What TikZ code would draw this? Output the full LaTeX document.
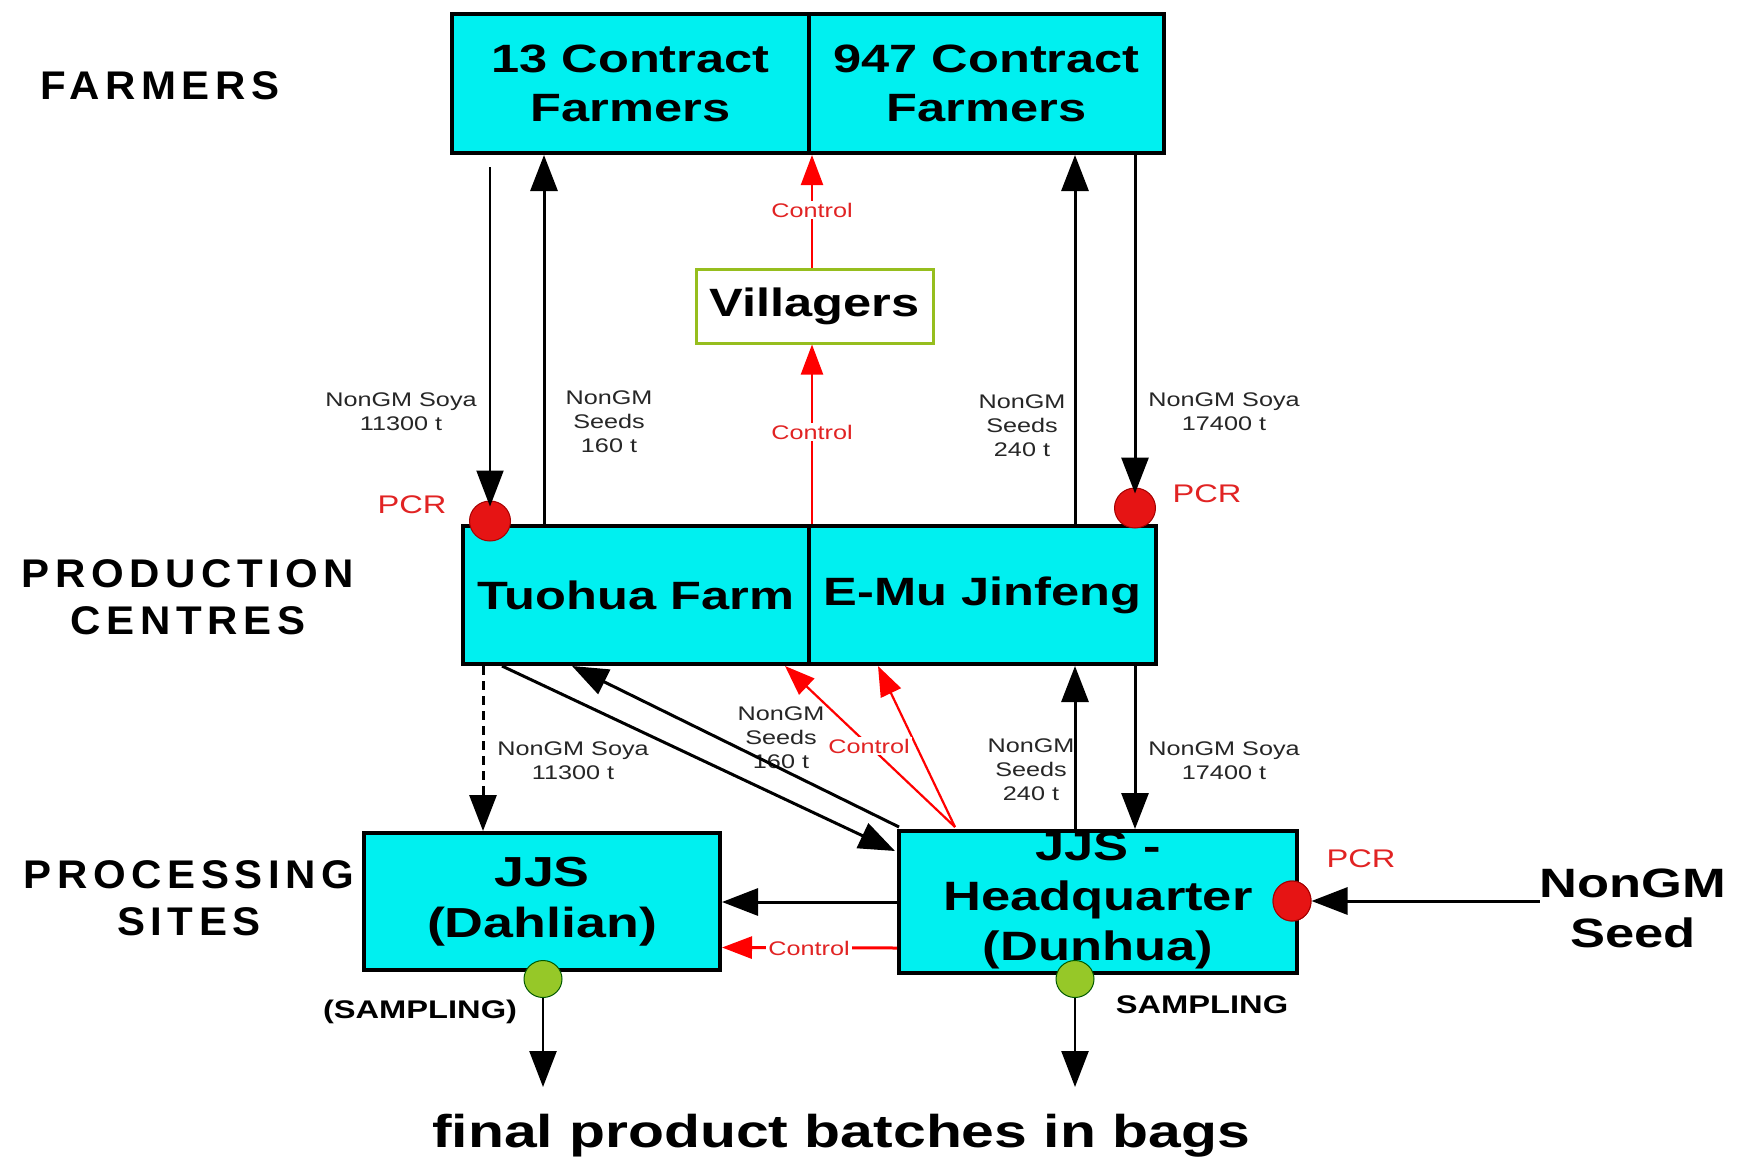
\documentclass[tikz,border=0pt]{standalone}
\usepackage{fontspec}
\setmainfont{Liberation Sans}[FakeStretch=1.28]
\newfontfamily\lvlfont{Liberation Sans}[FakeStretch=1.05,LetterSpace=14]
\usetikzlibrary{arrows.meta,shapes.geometric,calc}
\definecolor{boxcyan}{RGB}{0,240,240}
\definecolor{vgreen}{RGB}{150,190,30}
\definecolor{smpgreen}{RGB}{150,200,40}
\definecolor{pcrred}{RGB}{230,20,20}
\definecolor{txtred}{RGB}{225,35,35}
\newcommand\fsz[2]{\fontsize{#1}{#2}\selectfont}
\tikzset{
  box/.style={draw=black, line width=4pt, fill=boxcyan, inner sep=0pt, align=center, font=\bfseries\fsz{39.5}{49}},
  small/.style={font=\fsz{19.7}{24}, align=center, text=black!85, inner sep=0pt},
  ctrl/.style={font=\fsz{19.7}{24}, text=txtred, fill=white, inner sep=2pt},
  pcrtxt/.style={font=\fsz{25.5}{30}, text=txtred, inner sep=0pt},
  lvl/.style={font=\lvlfont\bfseries\fsz{40}{47}, align=center, inner sep=0pt},
  arr/.style={-{Triangle[length=36pt,width=27pt]}, line width=3pt},
  thinarr/.style={-{Triangle[length=36pt,width=27pt]}, line width=2pt},
  redarr/.style={-{Triangle[length=30pt,width=22pt]}, draw=red, line width=2.2pt},
  pcr/.style={ellipse, draw=red!65!black, fill=pcrred, line width=1pt, minimum width=41pt, minimum height=40pt, inner sep=0pt},
  smp/.style={ellipse, draw=green!35!black, fill=smpgreen, line width=1pt, minimum width=38pt, minimum height=37pt, inner sep=0pt}
}
\begin{document}
\begin{tikzpicture}[x=1pt,y=-1pt]
\useasboundingbox[fill=white] (0,0) rectangle (1742,1156);
% column helpers
\coordinate (c483) at (483,0);
\coordinate (c490) at (490,0);
\coordinate (c502) at (502,0);
\coordinate (c544) at (544,0);
\coordinate (c572) at (572,0);
\coordinate (c785) at (785,0);
\coordinate (c812) at (812,0);
\coordinate (c878) at (878,0);
\coordinate (c1075) at (1075,0);
\coordinate (c1135) at (1135,0);
\coordinate (fp) at (841,1087);

% level labels
\node[lvl] (lfarm) at (160,86) {FARMERS};
\node[lvl] (lprod) at (188,597) {PRODUCTION\\CENTRES};
\node[lvl] (lproc) at (189,898) {PROCESSING\\SITES};

% boxes
\node[box, minimum width=357pt, minimum height=139pt] (fa) at (630.5,83.5) {13 Contract\\Farmers};
\node[box, minimum width=355pt, minimum height=139pt] (fb) at (986.5,83.5) {947 Contract\\Farmers};
\node[draw=vgreen, line width=3pt, fill=white, minimum width=237pt, minimum height=74pt, inner sep=0pt, font=\bfseries\fsz{39.5}{49}] (vil) at (814.5,306) {Villagers};
\node[box, minimum width=346pt, minimum height=138pt] (pa) at (636,595) {Tuohua Farm};
\node[box, minimum width=347pt, minimum height=138pt] (pb) at (982.5,595) {E-Mu Jinfeng};
\node[box, minimum width=356pt, minimum height=137pt, font=\bfseries\fsz{42}{51}] (dl) at (542,901.5) {JJS\\(Dahlian)};
\node[box, minimum width=398pt, minimum height=142pt] (hq) at (1098,902) {};
\node[align=center, inner sep=0pt, font=\bfseries\fsz{41}{50}] (hqt) at (1098,900) {JJS -\\Headquarter\\(Dunhua)};

% small labels (drawn under lines)
\node[small] (s1) at (401,412) {NonGM Soya\\11300 t};
\node[small] (s2) at (609,422) {NonGM\\Seeds\\160 t};
\node[small] (s3) at (1022,426) {NonGM\\Seeds\\240 t};
\node[small] (s4) at (1224,412) {NonGM Soya\\17400 t};
\node[small] (s5) at (573,761) {NonGM Soya\\11300 t};
\node[small] (s6) at (781,738) {NonGM\\Seeds\\160 t};
\node[small] (s7) at (1031,770) {NonGM\\Seeds\\240 t};
\node[small] (s8) at (1224,761) {NonGM Soya\\17400 t};

% circles
\node[pcr] (pcr1) at (490,521) {};
\node[pcr] (pcr2) at (1135,508) {};
\node[pcr, minimum width=38pt, minimum height=40pt] (pcr3) at (1292,901) {};
\node[smp] (smp1) at (543,979) {};
\node[smp] (smp2) at (1075,979) {};

% texts
\node[pcrtxt] (p1) at (412,505) {PCR};
\node[pcrtxt] (p2) at (1207,494) {PCR};
\node[pcrtxt] (p3) at (1361,859) {PCR};
\node[font=\bfseries\fsz{41}{50}, align=center, inner sep=0pt] (seed) at (1633,908) {NonGM\\Seed};
\node[font=\bfseries\fsz{25.5}{30}, inner sep=0pt] (sm1) at (420,1012) {(SAMPLING)};
\node[font=\bfseries\fsz{25.5}{30}, inner sep=0pt] (sm2) at (1202,1005) {SAMPLING};
\node[font=\bfseries\fsz{46}{55}, inner sep=0pt] (fin) at (841,1136) {final product batches in bags};

% farmers <-> production
\draw[thinarr] ($(fa.south -| c490)+(0,12)$) -- ($(pcr1.north)+(0,6)$);
\draw[arr] (pa.north -| c544) -- (fa.south -| c544);
\draw[arr] (pb.north -| c1075) -- (fb.south -| c1075);
\draw[arr] (fb.south -| c1135) -- ($(pcr2.north)+(0,6)$);
\draw[redarr] (pa.north -| c812) -- (vil.south -| c812);
\draw[redarr] (vil.north -| c812) -- (fa.south -| c812);
\node[ctrl] (k1) at (812,210) {Control};
\node[ctrl] (k2) at (812,432) {Control};

% production <-> processing
\draw[arr, dashed, dash pattern=on 9pt off 6pt] (pa.south -| c483) -- (dl.north -| c483);
\draw[arr] (pa.south -| c502) -- ($(hq.north west)+(-2,22)$);
\draw[arr] ($(hq.north west)+(2,-2)$) -- (pa.south -| c572);
\draw[redarr] ($(hq.north west)+(58,-2)$) -- (pa.south -| c785);
\draw[redarr] ($(hq.north west)+(58,-2)$) -- (pb.south -| c878);
\node[ctrl] (k3) at (869,746) {Control};
\draw[arr] (hq.north -| c1075) -- (pb.south -| c1075);
\draw[arr] (pb.south -| c1135) -- (hq.north -| c1135);

% processing
\draw[arr] (hq.west) -- (dl.east |- hq.west);
\draw[redarr, line width=3pt] ($(hq.west)+(0,46)$) -- ($(dl.east)+(0,46)$);
\node[ctrl] (k4) at (809,948) {Control};
\draw[arr] (seed.west |- pcr3) -- (pcr3.east);
\node[pcr, minimum width=38pt, minimum height=40pt] at (pcr3) {};

% sampling to final product
\draw[thinarr, line width=2.5pt] (smp1.south) -- (smp1 |- fp);
\draw[thinarr, line width=2.5pt] (smp2.south) -- (smp2 |- fp);
\end{tikzpicture}
\end{document}
